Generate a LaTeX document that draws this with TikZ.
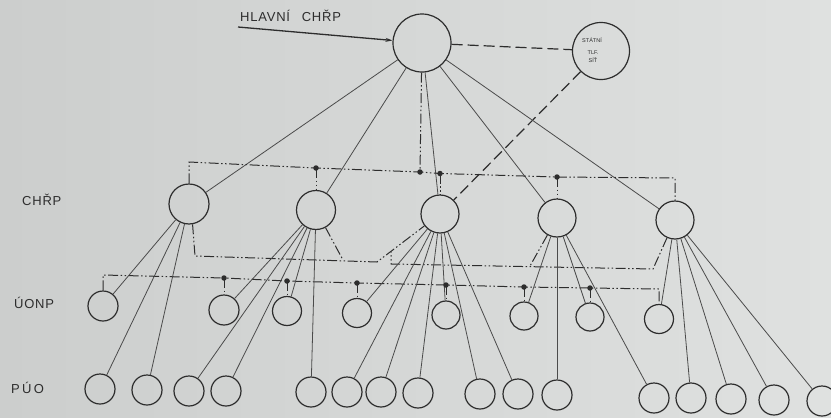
\documentclass[tikz,border=0pt]{standalone}
\usepackage{fontspec}
\setmainfont{Liberation Sans}
\newfontfamily\lblfont[LetterSpace=6]{Liberation Sans}
\newfontfamily\lblwide[LetterSpace=18]{Liberation Sans}
\usetikzlibrary{arrows.meta}

\definecolor{paperL}{RGB}{204,206,205}
\definecolor{paperR}{RGB}{223,225,224}
\definecolor{ink}{RGB}{45,45,45}
\definecolor{wire}{RGB}{75,75,75}

\begin{document}
\begin{tikzpicture}[x=1pt,y=-1pt,
  stn/.style={circle,draw=ink,line width=1.2pt,inner sep=0pt,minimum size=#1},
  feed/.style={draw=wire,line width=0.8pt},
  ctrl/.style={draw=ink,line width=1pt,dash pattern=on 10pt off 2.5pt on 1.5pt off 2.5pt on 1.5pt off 2.5pt},
  trunk/.style={draw=ink,line width=1.2pt,dash pattern=on 11pt off 5pt},
  junction/.style={circle,fill=ink,inner sep=0pt,minimum size=5.5pt},
  lvl/.style={font=\lblfont\fontsize{13}{15}\selectfont,text=ink,anchor=west,inner sep=0pt},
  tiny/.style={font=\fontsize{5.5}{6}\selectfont,text=ink,inner sep=0pt}
]
% paper
\useasboundingbox (0,0) rectangle (831,418);
\clip (0,0) rectangle (831,418);
\shade[left color=paperL,right color=paperR] (0,0) rectangle (831,418);

% ---- stations ----
\node[stn=58pt] (M) at (422,43) {};
\node[stn=57pt] (S) at (601,51) {};

\node[stn=40pt] (C1) at (189,204) {};
\node[stn=39pt] (C2) at (316,210) {};
\node[stn=38pt] (C3) at (440,214) {};
\node[stn=38pt] (C4) at (557,218) {};
\node[stn=38pt] (C5) at (675,220) {};

\node[stn=30pt] (U1) at (103,306) {};
\node[stn=30pt] (U2) at (224,310) {};
\node[stn=29pt] (U3) at (287,311) {};
\node[stn=29pt] (U4) at (357,313) {};
\node[stn=28pt] (U5) at (446,315) {};
\node[stn=28pt] (U6) at (524,316) {};
\node[stn=28pt] (U7) at (590,317) {};
\node[stn=29pt] (U8) at (659,319) {};

\foreach \n/\x/\y in {1/100/389,2/147/390,3/189/391,4/226/391,5/311/392,
                      6/347/392,7/381/392,8/418/393,9/480/394,10/518/394,
                      11/557/395,12/654/398,13/691/398,14/731/399,15/774/400,16/822/401}
  \node[stn=30pt] (P\n) at (\x,\y) {};

% ---- labels ----
\node[lvl] (lblH) at (240,16) {HLAVNÍ\hspace{0.9em}CHŘP};
\node[lvl] (lblC) at (22,200) {CHŘP};
\node[lvl] (lblU) at (14,303) {ÚONP};
\node[lvl,font=\lblwide\fontsize{13}{15}\selectfont] (lblP) at (11,388) {PÚO};
\node[tiny] (sA) at (592,40) {STÁTNÍ};
\node[tiny] (sB) at (593,53) {TLF.};
\node[tiny] (sC) at (593,60) {SÍŤ};

% ---- incoming feed ----
\coordinate (feedin) at (238,27);
\draw[ink,line width=1.3pt,-{Stealth[length=7pt,width=4pt]}] (feedin) -- (M);

% ---- public network trunk ----
\draw[trunk] (M) -- (S);
\draw[trunk] (S) -- (C3);

% ---- main to regional ----
\foreach \t in {C1,C2,C3,C4,C5} \draw[feed] (M) -- (\t);

% ---- regional control bus ----
\coordinate (tb0) at (189,162);
\coordinate (tb1) at (316,168);
\coordinate (tb2) at (420,172);
\coordinate (tb3) at (440,173.5);
\coordinate (tb4) at (557,177);
\coordinate (tb5) at (675,178);
\draw[ctrl] (C1) -- (tb0) -- (tb1) -- (tb2) -- (tb3) -- (tb4) -- (tb5) -- (C5);
\draw[ctrl] (tb1) -- (C2);
\draw[ctrl] (tb3) -- (C3);
\draw[ctrl] (tb4) -- (C4);
\draw[ctrl] (M) -- (tb2);

% ---- links between regional stations ----
\coordinate (a1) at (195,256);
\coordinate (a2) at (377,262);
\coordinate (a3) at (343,260);
\draw[ctrl] (C1.-80) -- (a1) -- (a2) -- (C3);
\draw[ctrl] (C2) -- (a3);
\coordinate (b1) at (653,269);
\coordinate (b2) at (391,264);
\coordinate (b3) at (391,251.5);
\coordinate (b4) at (530,266);
\draw[ctrl] (C5) -- (b1) -- (b2) -- (b3);
\draw[ctrl] (C4) -- (b4);

% ---- local control bus ----
\coordinate (lb0) at (103,275);
\coordinate (lb1) at (224,278);
\coordinate (lb2) at (287,281);
\coordinate (lb3) at (357,283);
\coordinate (lb4) at (446,285);
\coordinate (lb5) at (524,287);
\coordinate (lb6) at (590,288);
\coordinate (lb7) at (659,289);
\draw[ctrl] (U1) -- (lb0) -- (lb1) -- (lb2) -- (lb3) -- (lb4) -- (lb5) -- (lb6) -- (lb7) -- (U8);
\draw[ctrl] (lb1) -- (U2);
\draw[ctrl] (lb2) -- (U3);
\draw[ctrl] (lb3) -- (U4);
\draw[ctrl] (lb4) -- (U5);
\draw[ctrl] (lb5) -- (U6);
\draw[ctrl] (lb6) -- (U7);

% ---- regional to local and end stations ----
\foreach \t in {U1,P1,P2} \draw[feed] (C1) -- (\t);
\foreach \t in {U2,P3,P4,U3,P5} \draw[feed] (C2) -- (\t);
\foreach \t in {U4,P6,P7,P8,U5,P9,P10} \draw[feed] (C3) -- (\t);
\foreach \t in {U6,P11,U7,P12} \draw[feed] (C4) -- (\t);
\foreach \t in {U8,P13,P14,P15,P16} \draw[feed] (C5) -- (\t);

% ---- junction dots ----
\node[junction] (jt1) at (tb1) {};
\node[junction] (jt2) at (tb2) {};
\node[junction] (jt3) at (tb3) {};
\node[junction] (jt4) at (tb4) {};
\node[junction] (jl1) at (lb1) {};
\node[junction] (jl2) at (lb2) {};
\node[junction] (jl3) at (lb3) {};
\node[junction] (jl4) at (lb4) {};
\node[junction] (jl5) at (lb5) {};
\node[junction] (jl6) at (lb6) {};
\end{tikzpicture}
\end{document}
